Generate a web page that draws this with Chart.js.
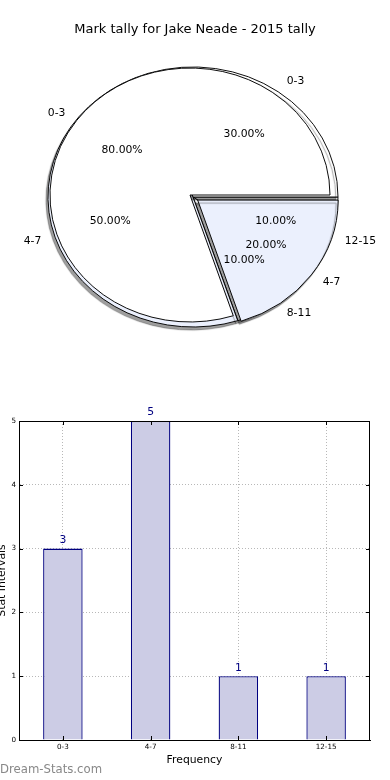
<!DOCTYPE html>
<html>
<head>
<meta charset="utf-8">
<script src="https://cdn.jsdelivr.net/npm/chart.js@4.4.1/dist/chart.umd.min.js"></script>
<style>
  html, body { margin: 0; padding: 0; background: #fff; }
  body { width: 390px; height: 780px; position: relative; overflow: hidden; font-family: "DejaVu Sans", sans-serif; }
  canvas { position: absolute; }
  #pieBack, #pieFront { left: 0; top: 0; }
  #barChart { left: -4px; top: 400px; }
  #watermark { position: absolute; left: 0; top: 764px; font-size: 11.7px; line-height: 1; color: #888; }
</style>
</head>
<body>
<canvas id="pieBack" width="390" height="390"></canvas>
<canvas id="pieFront" width="390" height="390"></canvas>
<canvas id="barChart" width="394" height="380"></canvas>
<div id="watermark">Dream-Stats.com</div>
<script>
const chartTitle = 'Mark tally for Jake Neade - 2015 tally';
const intervals = ['0-3', '4-7', '8-11', '12-15'];
const tally = [3, 5, 1, 1];
// the second pie drawn over the first one
const pieTwoLabels = ['0-3', '4-7'];
const pieTwoValues = [8, 2];

Chart.defaults.font.family = '"DejaVu Sans", sans-serif';
Chart.defaults.color = '#000';

// matplotlib pies are squashed and go counter clockwise, so data gets reversed
const ellipsePlugin = {
  id: 'ellipse',
  beforeDatasetDraw(chart, args, opts) {
    const n = args.meta.data.length;
    args.meta.data.forEach((arc, i) => {
      if (arc.$wrapped) return;
      const draw = arc.draw;
      const shadow = opts.shadowed[n - 1 - i];
      arc.draw = function (ctx, area) {
        ctx.save();
        ctx.translate(this.x, this.y);
        ctx.scale(1, opts.squash);
        ctx.translate(-this.x, -this.y);
        if (shadow) {
          ctx.shadowColor = 'rgba(0,0,0,0.38)';
          ctx.shadowOffsetX = -2;
          ctx.shadowOffsetY = 3;
          ctx.shadowBlur = 1;
        }
        draw.call(this, ctx, area);
        ctx.restore();
      };
      arc.$wrapped = true;
    });
  }
};

function pieConfig(labels, values, colors, offsets, radius, squash, shadowed, pad) {
  return {
    type: 'pie',
    data: {
      labels: labels.slice().reverse(),
      datasets: [{
        data: values.slice().reverse(),
        backgroundColor: colors.slice().reverse(),
        borderColor: '#000',
        borderWidth: 1,
        offset: offsets.slice().reverse(),
        radius: radius,
        clip: false
      }]
    },
    options: {
      responsive: false,
      animation: false,
      events: [],
      rotation: 90,
      layout: { padding: pad },
      plugins: {
        legend: { display: false },
        tooltip: { enabled: false },
        ellipse: { squash: squash, shadowed: shadowed }
      }
    },
    plugins: [ellipsePlugin]
  };
}

const backChart = new Chart(document.getElementById('pieBack'),
  pieConfig(intervals, tally, ['#ffffff', '#ebf0fd', '#ffffff', '#ffffff'], [0, 0, 0, 0],
    145, 0.8966, [true, true, true, true], { left: 0, right: 4, top: 4, bottom: 0 }));

const pieLabels = {
  id: 'pieLabels',
  afterDraw(chart) {
    const ctx = chart.ctx;
    ctx.save();
    ctx.fillStyle = '#000';
    ctx.textBaseline = 'middle';
    ctx.textAlign = 'center';
    ctx.font = '13px "DejaVu Sans"';
    ctx.fillText(chartTitle, 195, 30);
    ctx.font = '10.8px "DejaVu Sans"';
    [backChart, chart].forEach(c => {
      const meta = c.getDatasetMeta(0);
      const ds = c.data.datasets[0];
      const total = ds.data.reduce((a, b) => a + b, 0);
      const k = c.options.plugins.ellipse.squash;
      meta.data.forEach((arc, i) => {
        const mid = (arc.startAngle + arc.endAngle) / 2;
        const cos = Math.cos(mid), sin = Math.sin(mid);
        const circ = arc.endAngle - arc.startAngle;
        const shift = (ds.offset[i] || 0) / 4 * (2 - Math.sin(Math.min(Math.PI, circ)));
        const at = d => [arc.x + (shift + d * arc.outerRadius) * cos,
                         arc.y + (shift + d * arc.outerRadius) * sin * k];
        let [x, y] = at(0.6);
        ctx.textAlign = 'center';
        ctx.fillText((ds.data[i] / total * 100).toFixed(2) + '%', x, y);
        [x, y] = at(1.1);
        ctx.textAlign = cos >= 0 ? 'left' : 'right';
        ctx.fillText(c.data.labels[i], x, y);
      });
    });
    ctx.restore();
  }
};

const frontCfg = pieConfig(pieTwoLabels, pieTwoValues, ['#ffffff', '#ebf0fd'], [0, 38],
  140, 0.907, [false, true], { left: 0, right: 10, top: 0, bottom: 0 });
frontCfg.plugins.push(pieLabels);
const frontChart = new Chart(document.getElementById('pieFront'), frontCfg);

// bar chart
const valueLabels = {
  id: 'valueLabels',
  afterDatasetsDraw(chart) {
    const ctx = chart.ctx;
    const ds = chart.data.datasets[0];
    ctx.save();
    ctx.fillStyle = '#000080';
    ctx.font = '10.8px "DejaVu Sans"';
    ctx.textAlign = 'center';
    ctx.textBaseline = 'bottom';
    chart.getDatasetMeta(0).data.forEach((bar, i) => {
      ctx.fillText(ds.data[i], bar.x, bar.y - 3);
    });
    ctx.restore();
  }
};

const frame = {
  id: 'frame',
  afterDraw(chart) {
    const {ctx, chartArea: a, scales} = chart;
    ctx.save();
    ctx.strokeStyle = '#000';
    ctx.lineWidth = 1;
    ctx.strokeRect(Math.round(a.left) + 0.5, Math.round(a.top) + 0.5,
      Math.round(a.right - a.left) - 1, Math.round(a.bottom - a.top));
    ctx.beginPath();
    scales.y.ticks.forEach(t => {
      const y = Math.round(scales.y.getPixelForValue(t.value)) + 0.5;
      ctx.moveTo(a.left, y); ctx.lineTo(a.left + 4, y);
      ctx.moveTo(a.right, y); ctx.lineTo(a.right - 4, y);
    });
    intervals.forEach((lab, i) => {
      const x = Math.round(scales.x.getPixelForValue(i)) + 0.5;
      ctx.moveTo(x, a.bottom); ctx.lineTo(x, a.bottom - 4);
      ctx.moveTo(x, a.top); ctx.lineTo(x, a.top + 4);
    });
    ctx.stroke();
    ctx.restore();
  }
};

const barChart = new Chart(document.getElementById('barChart'), {
  type: 'bar',
  data: {
    labels: intervals,
    datasets: [{
      data: tally,
      backgroundColor: '#ccccE5',
      borderColor: '#000080',
      borderWidth: 1.3,
      barPercentage: 0.45,
      categoryPercentage: 1
    }]
  },
  options: {
    responsive: false,
    animation: false,
    events: [],
    layout: { padding: { top: 21, right: 20, bottom: 10, left: 0 } },
    plugins: { legend: { display: false }, tooltip: { enabled: false } },
    scales: {
      x: {
        grid: { offset: false, color: '#b8b8b8', drawTicks: false },
        border: { display: true, color: '#000', width: 1, dash: [1, 2] },
        ticks: { font: { size: 7.2 }, padding: 3, color: '#000' },
        title: { display: true, text: 'Frequency', font: { size: 10.8 }, padding: { top: 0, bottom: 3.5 } },
        afterFit: s => { s.height = 30; }
      },
      y: {
        min: 0,
        max: 5,
        grid: { color: '#b8b8b8', drawTicks: false },
        border: { display: true, color: '#000', width: 1, dash: [1, 2] },
        ticks: { stepSize: 1, font: { size: 7.2 }, padding: 3, color: '#000' },
        title: { display: true, text: 'Stat Intervals', font: { size: 10.8 }, padding: { top: 0, bottom: 0 } },
        afterFit: s => { s.width = 23; }
      }
    }
  },
  plugins: [valueLabels, frame]
});
</script>
</body>
</html>
